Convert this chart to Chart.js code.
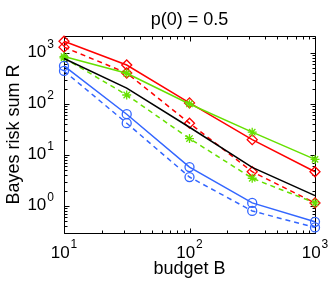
<!DOCTYPE html>
<html><head><meta charset="utf-8">
<script src="https://cdn.jsdelivr.net/npm/chart.js@4/dist/chart.umd.min.js"></script>
<style>html,body{margin:0;padding:0;background:#fff}</style>
</head><body>
<canvas id="c" width="332" height="281" style="width:332px;height:281px;display:block"></canvas>
<script>
const budgets = [10, 31.6, 100, 316, 1000];
const redSolid = [1700, 580, 105, 20, 4.7];
const redDashed = [1300, 405, 42, 4.7, 1.15];
const greenSolid = [850, 400, 100, 28, 8.2];
const greenDashed = [800, 150, 21, 3.5, 1.15];
const blackSolid = [780, 205, 35, 5.7, 1.6];
const blueSolid = [556, 63, 5.8, 1.15, 0.49];
const blueDashed = [444, 42, 3.7, 0.8, 0.38];

const xTickValues = [10, 100, 1000];
const xTickExp = ['1', '2', '3'];
const yTickValues = [1, 10, 100, 1000];
const yTickExp = ['0', '1', '2', '3'];
const titleText = 'p(0) = 0.5';
const xLabel = 'budget B';
const yLabel = 'Bayes risk sum R';

const FONT = "'Liberation Sans', Arial, Helvetica, sans-serif";
const RED = '#ff0000', GREEN = '#66e000', BLUE = '#3366ff', BLACK = '#000000';

function pts(arr) { return budgets.map((b, i) => ({x: b, y: arr[i]})); }
function ds(arr, color, dashed, style) {
  return {
    data: pts(arr), borderColor: color, backgroundColor: 'transparent',
    borderWidth: 1.5, borderDash: dashed ? [5, 4] : [],
    pointStyle: style || false, pointRadius: style ? (style === 'circle' ? 4.5 : (style === 'star' ? 4.5 : 5)) : 0,
    pointBorderColor: color, pointBackgroundColor: 'transparent', pointBorderWidth: 1.3,
    tension: 0, clip: false
  };
}

const axesPlugin = {
  id: 'matlabAxes',
  beforeDatasetsDraw(chart) {
    const {ctx, chartArea: a, scales: {x, y}} = chart;
    ctx.save();
    ctx.strokeStyle = '#000'; ctx.lineWidth = 1;
    const L = Math.round(a.left) + 0.5, R = Math.round(a.right) + 0.5;
    const T = Math.round(a.top) + 0.5, B = Math.round(a.bottom) + 0.5;
    ctx.beginPath(); ctx.rect(L, T, R - L, B - T); ctx.stroke();
    ctx.beginPath();
    // x ticks
    for (let k = 1; k <= 3; k++) {
      for (let m = 1; m <= 9; m++) {
        const v = m * Math.pow(10, k);
        if (v < x.min - 1e-9 || v > x.max + 1e-9) continue;
        const px = Math.round(x.getPixelForValue(v)) + 0.5;
        const len = m === 1 ? 5 : 3;
        ctx.moveTo(px, B); ctx.lineTo(px, B - len);
        ctx.moveTo(px, T); ctx.lineTo(px, T + len);
      }
    }
    // y ticks
    for (let k = -1; k <= 3; k++) {
      for (let m = 1; m <= 9; m++) {
        const v = m * Math.pow(10, k);
        if (v < y.min || v > y.max) continue;
        const py = Math.round(y.getPixelForValue(v)) + 0.5;
        const len = m === 1 ? 5 : 3;
        ctx.moveTo(L, py); ctx.lineTo(L + len, py);
        ctx.moveTo(R, py); ctx.lineTo(R - len, py);
      }
    }
    ctx.stroke();
    ctx.restore();
  },
  afterDraw(chart) {
    const {ctx, scales: {x, y}} = chart;
    ctx.save();
    ctx.fillStyle = '#000';
    ctx.textBaseline = 'middle';
    const baseFont = '17px ' + FONT, expFont = '12px ' + FONT;
    xTickValues.forEach((v, i) => {
      const px = x.getPixelForValue(v);
      ctx.font = baseFont; const w1 = ctx.measureText('10').width;
      ctx.font = expFont; const w2 = ctx.measureText(xTickExp[i]).width;
      const start = px - (w1 + w2 + 1) / 2;
      ctx.textAlign = 'left';
      ctx.font = baseFont; ctx.fillText('10', start, 253);
      ctx.font = expFont; ctx.fillText(xTickExp[i], start + w1 + 1, 245);
    });
    yTickValues.forEach((v, i) => {
      const py = y.getPixelForValue(v);
      const right = 54;
      ctx.font = expFont; const w2 = ctx.measureText(yTickExp[i]).width;
      ctx.textAlign = 'right';
      ctx.fillText(yTickExp[i], right, py - 8);
      ctx.font = baseFont; ctx.fillText('10', right - w2 - 1, py - 0.5);
    });
    ctx.restore();
  }
};

new Chart(document.getElementById('c'), {
  type: 'line',
  data: {
    datasets: [
      ds(blackSolid, BLACK, false, null),
      ds(blueDashed, BLUE, true, 'circle'),
      ds(blueSolid, BLUE, false, 'circle'),
      ds(greenDashed, GREEN, true, 'star'),
      ds(greenSolid, GREEN, false, 'star'),
      ds(redDashed, RED, true, 'rectRot'),
      ds(redSolid, RED, false, 'rectRot')
    ]
  },
  options: {
    responsive: false, animation: false, devicePixelRatio: 1,
    layout: {padding: {left: 0, right: 17, top: 0, bottom: 0}},
    plugins: {
      legend: {display: false}, tooltip: {enabled: false},
      title: {display: true, text: titleText, color: '#000', fullSize: false,
        font: {family: FONT, size: 18, weight: 'normal'}, padding: {top: 9, bottom: 5.4}}
    },
    scales: {
      x: {
        type: 'logarithmic', min: 10, max: 1000, position: 'bottom',
        grid: {display: false}, border: {display: false}, ticks: {display: false},
        title: {display: true, text: xLabel, color: '#000',
          font: {family: FONT, size: 18}, padding: {top: 0, bottom: 1}},
        afterFit(s) { s.height = 48; }
      },
      y: {
        type: 'logarithmic', min: 0.296, max: 2150, position: 'left',
        grid: {display: false}, border: {display: false}, ticks: {display: false},
        title: {display: true, text: yLabel, color: '#000',
          font: {family: FONT, size: 18}, padding: {top: 3, bottom: 0}},
        afterFit(s) { s.width = 64; }
      }
    }
  },
  plugins: [axesPlugin]
});
</script>
</body></html>
